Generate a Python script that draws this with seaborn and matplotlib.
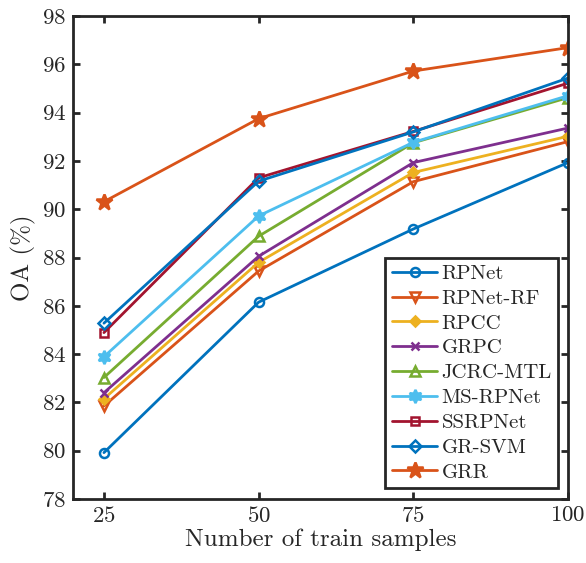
import matplotlib
matplotlib.use("Agg")
import matplotlib.pyplot as plt
import seaborn as sns
import pandas as pd

samples = [25, 50, 75, 100]
methods = ["RPNet", "RPNet-RF", "RPCC", "GRPC", "JCRC-MTL", "MS-RPNet", "SSRPNet", "GR-SVM", "GRR"]
rpnet    = [79.92, 86.15, 89.18, 91.93]
rpnet_rf = [81.85, 87.44, 91.14, 92.80]
rpcc     = [82.15, 87.80, 91.52, 93.02]
grpc     = [82.40, 88.05, 91.93, 93.36]
jcrc_mtl = [83.03, 88.88, 92.75, 94.62]
ms_rpnet = [83.89, 89.72, 92.77, 94.70]
ssrpnet  = [84.89, 91.30, 93.22, 95.22]
gr_svm   = [85.28, 91.16, 93.20, 95.43]
grr      = [90.31, 93.75, 95.72, 96.69]
values = [rpnet, rpnet_rf, rpcc, grpc, jcrc_mtl, ms_rpnet, ssrpnet, gr_svm, grr]

colors = ["#0072BD", "#D95319", "#EDB120", "#7E2F8E", "#77AC30",
          "#4DBEEE", "#A2142F", "#0072BD", "#D95319"]
markers = ["o", "v", "D", "x", "^", (6, 1, 0), "s", "D", "*"]
msizes = [6.5, 7.5, 5.5, 5.5, 7.5, 9.5, 5.5, 6.5, 12]
filled = [False, False, True, False, False, True, False, False, True]

sns.set_style("ticks")
plt.rcParams.update({
    "font.family": "serif",
    "font.serif": ["cmr10"],
    "axes.formatter.use_mathtext": True,
    "mathtext.fontset": "cm",
    "axes.edgecolor": "#262626",
    "xtick.color": "#262626",
    "ytick.color": "#262626",
    "axes.linewidth": 2.0,
})

rows = []
for m, v in zip(methods, values):
    for s, y in zip(samples, v):
        rows.append({"method": m, "samples": s, "OA": y})
df = pd.DataFrame(rows)

fig = plt.figure(figsize=(5.86, 5.63), dpi=100)
ax = fig.add_axes([73 / 586, 1 - 499 / 563, 495 / 586, 483 / 563])

for i, m in enumerate(methods):
    sub = df[df["method"] == m]
    mfc = colors[i] if filled[i] else "none"
    sns.lineplot(data=sub, x="samples", y="OA", ax=ax, color=colors[i],
                 marker=markers[i], markersize=msizes[i], markerfacecolor=mfc,
                 markeredgecolor=colors[i], markeredgewidth=1.8,
                 linewidth=2.0, label=m)

ax.set_xlim(20, 100)
ax.set_ylim(78, 98)
ax.set_xticks(samples)
ax.set_yticks(list(range(78, 99, 2)))
ax.tick_params(direction="in", length=5, width=2, top=True, right=True,
               labelsize=16.5, pad=5)
ax.set_xlabel("Number of train samples", fontsize=18, labelpad=2)
ax.set_ylabel("OA (%)", fontsize=18, labelpad=4)
for sp in ax.spines.values():
    sp.set_visible(True)
    sp.set_linewidth(2.0)

leg = ax.legend(loc="lower right", bbox_to_anchor=(0.98, 0.023), fontsize=15,
                frameon=True, fancybox=False, handlelength=2.2, labelspacing=0.3,
                borderpad=0.3, handletextpad=0.2, borderaxespad=0)
leg.get_frame().set_edgecolor("#262626")
leg.get_frame().set_linewidth(2.0)
leg.get_frame().set_alpha(1)

fig.savefig("out.png", dpi=100)
